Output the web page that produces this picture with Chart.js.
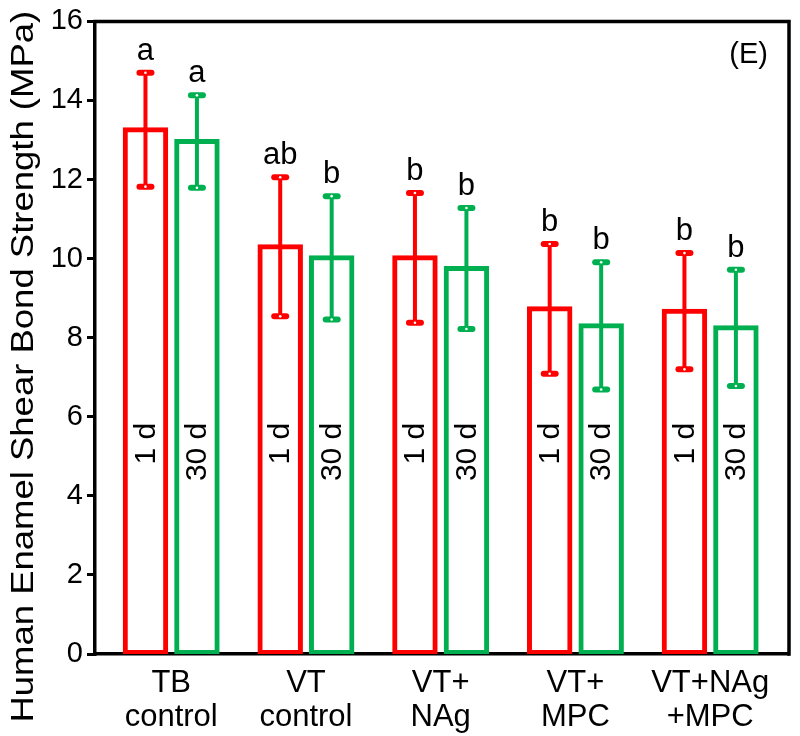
<!DOCTYPE html>
<html><head><meta charset="utf-8">
<script src="https://cdn.jsdelivr.net/npm/chart.js@4.4.0/dist/chart.umd.min.js"></script>
<style>html,body{margin:0;padding:0;background:#fff}#wrap{width:800px;height:736px}</style>
</head><body><div id="wrap"><canvas id="c" width="800" height="736"></canvas></div>
<script>
// ---- data ----
const categories = [['TB','control'],['VT','control'],['VT+','NAg'],['VT+','MPC'],['VT+NAg','+MPC']];
const seriesNames = ['1 d','30 d'];
const mean1d  = [13.26, 10.30, 10.02, 8.73, 8.67];
const sd1d    = [1.44, 1.76, 1.64, 1.64, 1.47];
const mean30d = [12.96, 10.02, 9.75, 8.30, 8.25];
const sd30d   = [1.17, 1.56, 1.53, 1.61, 1.47];
const letters1d  = ['a','ab','b','b','b'];
const letters30d = ['a','b','b','b','b'];
const yTickValues = [0,2,4,6,8,10,12,14,16];
const yTitle = 'Human Enamel Shear Bond Strength (MPa)';
const panelLabel = '(E)';

// ---- style ----
const FONT = "'Liberation Sans', Arial, sans-serif";
const RED = '#FF0000', GREEN = '#00B050';
const DAY_LABEL_TOP = 5.85;

const series = [
  {name: seriesNames[0], mean: mean1d, sd: sd1d, letters: letters1d, color: RED},
  {name: seriesNames[1], mean: mean30d, sd: sd30d, letters: letters30d, color: GREEN}
];

const datasets = series.map(s => ({
  label: s.name,
  data: s.mean.map((v, i) => ({x: i, y: v})),
  borderColor: s.color,
  backgroundColor: '#ffffff',
  borderWidth: 5,
  borderSkipped: false,
  inflateAmount: 2.5,
  barPercentage: 0.786,
  categoryPercentage: 0.764,
  _sd: s.sd,
  _letters: s.letters
}));

const extras = {
  id: 'extras',
  beforeDatasetsDraw(chart) {
    const {ctx, chartArea: a} = chart;
    ctx.save();
    ctx.strokeStyle = '#000';
    ctx.lineWidth = 3.5;
    ctx.lineCap = 'square';
    ctx.beginPath();
    ctx.moveTo(a.left, a.top);
    ctx.lineTo(a.right, a.top);
    ctx.lineTo(a.right, a.bottom);
    ctx.stroke();
    ctx.fillStyle = '#000';
    ctx.font = '29px ' + FONT;
    ctx.textAlign = 'right';
    ctx.textBaseline = 'top';
    ctx.fillText(panelLabel, a.right - 21, a.top + 19);
    // y-axis title
    ctx.save();
    ctx.translate(33, (a.top + a.bottom) / 2 + 29);
    ctx.rotate(-Math.PI / 2);
    ctx.scale(1.14, 1);
    ctx.font = '32px ' + FONT;
    ctx.textAlign = 'center';
    ctx.textBaseline = 'alphabetic';
    ctx.fillText(yTitle, 0, 0);
    ctx.restore();
    ctx.restore();
  },
  afterDatasetsDraw(chart) {
    const {ctx} = chart;
    const ys = chart.scales.y;
    chart.data.datasets.forEach((ds, di) => {
      const meta = chart.getDatasetMeta(di);
      meta.data.forEach((bar, i) => {
        const m = ds.data[i].y, s = ds._sd[i];
        const x = bar.x;
        const yt = ys.getPixelForValue(m + s), yb = ys.getPixelForValue(m - s);
        ctx.save();
        ctx.strokeStyle = ds.borderColor;
        ctx.lineWidth = 4;
        ctx.beginPath(); ctx.moveTo(x, yt); ctx.lineTo(x, yb); ctx.stroke();
        ctx.lineWidth = 6; ctx.lineCap = 'round';
        [yt, yb].forEach(yy => {
          ctx.beginPath(); ctx.moveTo(x - 6, yy); ctx.lineTo(x + 6, yy); ctx.stroke();
          ctx.fillStyle = '#fff';
          ctx.beginPath(); ctx.arc(x, yy, 1.3, 0, Math.PI * 2); ctx.fill();
        });
        // significance letter
        ctx.fillStyle = '#000';
        ctx.font = '31px ' + FONT;
        ctx.textAlign = 'center';
        ctx.textBaseline = 'alphabetic';
        ctx.fillText(ds._letters[i], x, yt - 13);
        // day label inside bar
        ctx.font = '30px ' + FONT;
        ctx.translate(x, ys.getPixelForValue(DAY_LABEL_TOP));
        ctx.rotate(-Math.PI / 2);
        ctx.textAlign = 'right';
        ctx.textBaseline = 'middle';
        ctx.fillText(ds.label, 0, 1);
        ctx.restore();
      });
    });
  }
};

new Chart(document.getElementById('c'), {
  type: 'bar',
  data: {datasets},
  options: {
    responsive: false,
    animation: false,
    layout: {padding: {top: 20, right: 11, left: 0, bottom: 0}},
    plugins: {legend: {display: false}, tooltip: {enabled: false}},
    scales: {
      x: {
        type: 'linear',
        offset: false,
        min: -0.5655,
        max: 4.585,
        afterBuildTicks: s => { s.ticks = categories.map((c, i) => ({value: i})); },
        afterFit: s => { s.height = 82; },
        ticks: {
          callback: v => categories[v],
          font: {family: FONT, size: 31, lineHeight: 1.1},
          color: '#000',
          padding: 4,
          maxRotation: 0,
          autoSkip: false
        },
        grid: {display: false},
        border: {display: true, color: '#000', width: 3.5}
      },
      y: {
        min: 0, max: 16,
        afterBuildTicks: s => { s.ticks = yTickValues.map(v => ({value: v})); },
        afterFit: s => { s.width = 95; },
        ticks: {font: {family: FONT, size: 29}, color: '#000', padding: 4},
        grid: {drawOnChartArea: false, drawTicks: true, tickLength: 8, tickWidth: 3, tickColor: '#000', color: '#000', lineWidth: 3},
        border: {display: true, color: '#000', width: 3.5},
        title: {display: false}
      }
    }
  },
  plugins: [extras]
});
</script>
</body></html>
